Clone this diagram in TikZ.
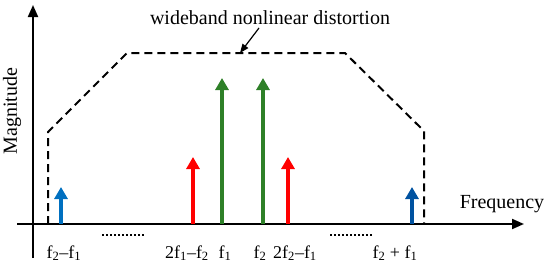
\documentclass[tikz,border=0pt]{standalone}
\usepackage{fontspec}
\setmainfont{Liberation Serif}
\usetikzlibrary{arrows.meta}

\definecolor{spgreen}{RGB}{46,128,40}
\definecolor{splblue}{RGB}{0,112,192}
\definecolor{spdblue}{RGB}{0,82,160}
\definecolor{spred}{RGB}{255,0,0}

\tikzset{
  axis/.style={line width=2pt,-{Triangle[length=12pt,width=10pt]}},
  tone/.style={line width=4pt,-{Triangle[length=12pt,width=13pt]}},
  envelope/.style={line width=2pt,dash pattern=on 8pt off 5pt},
  lbl/.style={font=\fontsize{18}{20}\selectfont,inner sep=0pt},
  title/.style={font=\fontsize{20}{22}\selectfont,inner sep=0pt},
  dotline/.style={line width=2.5pt,dash pattern=on 2pt off 2pt}
}

\begin{document}
\begin{tikzpicture}[x=1pt,y=-1pt]
\useasboundingbox (0,0) rectangle (550,265);

% axes
\coordinate (yb) at (33,258);
\coordinate (yt) at (33,5);
\coordinate (xl) at (17,224);
\coordinate (xr) at (524,224);
\draw[axis] (yb) -- (yt);
\draw[axis] (xl) -- (xr);
\node[title,rotate=90] (mag) at (12,111){Magnitude};
\node[title] (freq) at (502,204){Frequency};

% envelope
\coordinate (e1) at (48,224);
\coordinate (e2) at (48,132);
\coordinate (e3) at (127,53);
\coordinate (e4) at (345,53);
\coordinate (e5) at (424,131);
\coordinate (e6) at (424,224);
\draw[envelope] (e1) -- (e2) -- (e3) -- (e4) -- (e5) -- (e6);

\node[title] (wnd) at (270,18){wideband nonlinear distortion};
\coordinate (pa) at (259,28);
\coordinate (pb) at (240,53);
\draw[line width=1.2pt,-{Triangle[length=9pt,width=7pt]}] (pa) -- (pb);

% tones
\coordinate (b1) at (61,224); \coordinate (t1) at (61,187);
\coordinate (b2) at (193,224); \coordinate (t2) at (193,157);
\coordinate (b3) at (222,224); \coordinate (t3) at (222,78);
\coordinate (b4) at (263,224); \coordinate (t4) at (263,78);
\coordinate (b5) at (288,224); \coordinate (t5) at (288,157);
\coordinate (b6) at (412,224); \coordinate (t6) at (412,187);
\draw[tone,splblue] (b1) -- (t1);
\draw[tone,spred] (b2) -- (t2);
\draw[tone,spgreen] (b3) -- (t3);
\draw[tone,spgreen] (b4) -- (t4);
\draw[tone,spred] (b5) -- (t5);
\draw[tone,spdblue] (b6) -- (t6);

% dots
\coordinate (d1) at (102,235); \coordinate (d2) at (145,235);
\coordinate (d3) at (330,235); \coordinate (d4) at (373,235);
\draw[dotline] (d1) -- (d2);
\draw[dotline] (d3) -- (d4);

% labels
\node[lbl] (l1) at (64,253){f\textsubscript{2}--f\textsubscript{1}};
\node[lbl] (l2) at (187,253){2f\textsubscript{1}--f\textsubscript{2}};
\node[lbl] (l3) at (225,253){f\textsubscript{1}};
\node[lbl] (l4) at (260,253){f\textsubscript{2}};
\node[lbl] (l5) at (295,253){2f\textsubscript{2}--f\textsubscript{1}};
\node[lbl] (l6) at (395,253){f\textsubscript{2} + f\textsubscript{1}};

\end{tikzpicture}
\end{document}
